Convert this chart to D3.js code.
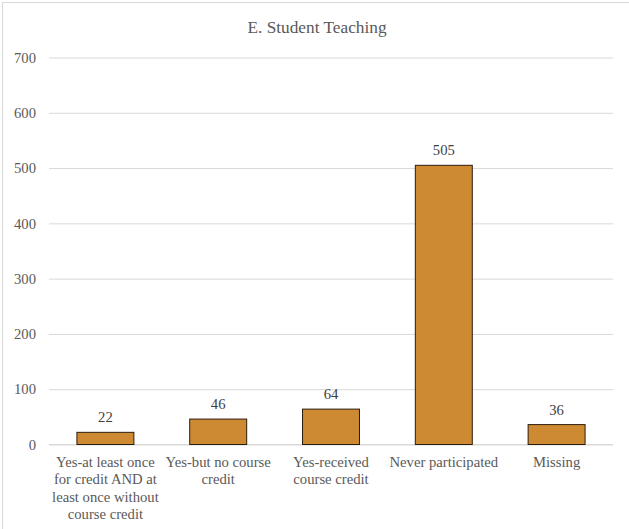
<!DOCTYPE html>
<html><head><meta charset="utf-8">
<script src="https://cdn.jsdelivr.net/npm/d3@7"></script>
<style>body{margin:0;background:#fff;overflow:hidden}</style>
</head><body>
<svg id="c" width="629" height="529"></svg>
<script>
const title = "E. Student Teaching";
const categories = [
  ["Yes-at least once","for credit AND at","least once without","course credit"],
  ["Yes-but no course","credit"],
  ["Yes-received","course credit"],
  ["Never participated"],
  ["Missing"]
];
const values = [22, 46, 64, 505, 36];
const yTicks = [0,100,200,300,400,500,600,700];

const svg = d3.select("#c");
const FF = '"Liberation Serif"';
const textCol = "#595959";
const m = {left:49, right:613, top:57.5, bottom:444.5};

svg.append("rect").attr("x",2.5).attr("y",2.5).attr("width",640).attr("height",540)
  .attr("fill","#fff").attr("stroke","#d9d9d9").attr("stroke-width",1);

const idx = d3.range(values.length);
const x = d3.scaleBand().domain(idx).range([m.left,m.right]).paddingInner(0.495).paddingOuter(0.2475);
const y = d3.scaleLinear().domain([0,700]).range([m.bottom,m.top]);

const yAxis = d3.axisLeft(y).tickValues(yTicks).tickSize(-(m.right-m.left)).tickPadding(13);
const gy = svg.append("g").attr("transform",`translate(${m.left},0)`).call(yAxis);
gy.select(".domain").remove();
gy.selectAll(".tick line").attr("stroke","#d9d9d9").attr("stroke-width",1);
gy.selectAll(".tick text").attr("fill",textCol).style("font-family",FF).style("font-size","14.67px");

svg.append("line").attr("x1",m.left).attr("x2",m.right).attr("y1",y(0)).attr("y2",y(0))
  .attr("stroke","#d9d9d9").attr("stroke-width",1);

svg.append("g").selectAll("rect").data(idx).join("rect")
  .attr("x",i=>x(i)).attr("width",x.bandwidth())
  .attr("y",i=>y(values[i])).attr("height",i=>y(0)-y(values[i]))
  .attr("fill","#CD8A32").attr("stroke","#2b1d0c").attr("stroke-width",1);

svg.append("g").selectAll("text").data(idx).join("text")
  .attr("x",i=>x(i)+x.bandwidth()/2).attr("y",i=>y(values[i])-10)
  .attr("text-anchor","middle").attr("fill","#404040")
  .style("font-family",FF).style("font-size","14.67px")
  .text(i=>values[i]);

const xl = svg.append("g");
idx.forEach(i=>{
  const t = xl.append("text").attr("text-anchor","middle").attr("fill",textCol)
    .style("font-family",FF).style("font-size","14.67px");
  categories[i].forEach((line,j)=>{
    t.append("tspan").attr("x",x(i)+x.bandwidth()/2).attr("y",467+j*17.3).text(line);
  });
});

svg.append("text").attr("x",317).attr("y",33).attr("text-anchor","middle")
  .attr("fill",textCol).style("font-family",FF).style("font-size","17.3px").text(title);
</script>
</body></html>
